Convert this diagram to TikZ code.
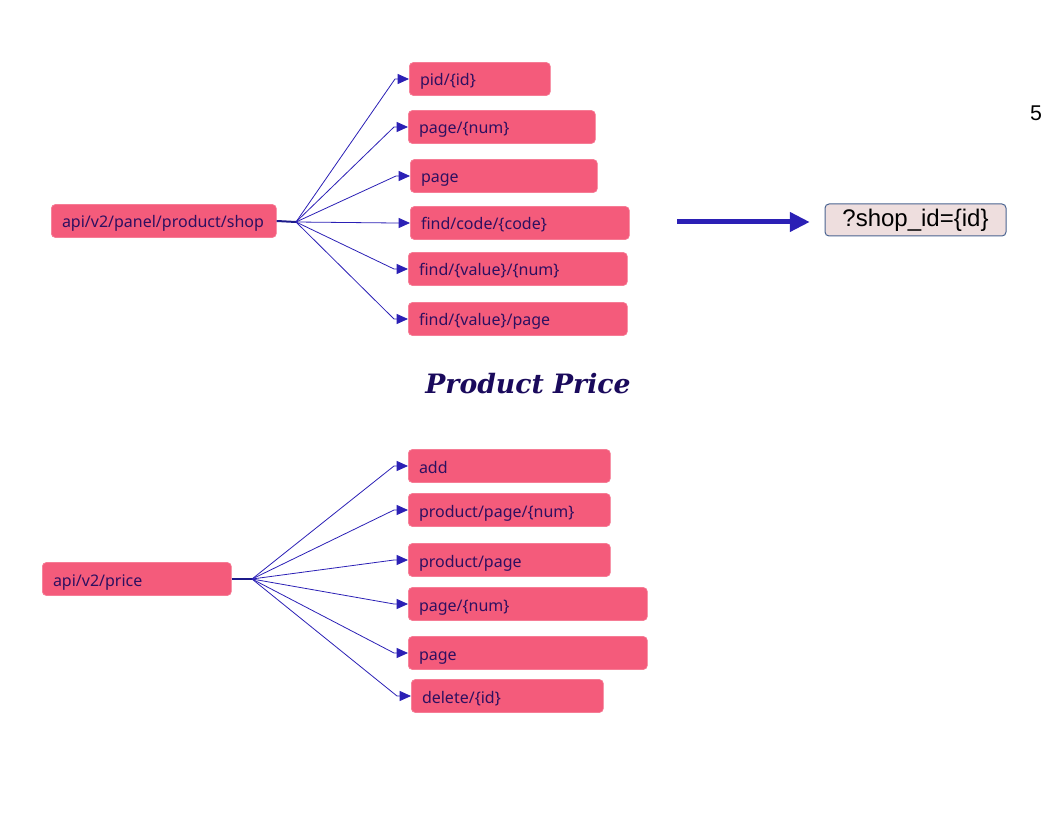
\documentclass[tikz,border=0pt]{standalone}
\usepackage{fontspec}
\setmainfont{Noto Sans}
\newfontfamily\titlefont{DejaVu Serif}
\newfontfamily\arialfont{Liberation Sans}
\usetikzlibrary{arrows.meta}
\definecolor{boxfill}{HTML}{F45B7B}
\definecolor{boxtext}{HTML}{2E1060}
\definecolor{conncol}{HTML}{2B20B5}
\definecolor{stubcol}{HTML}{1C1A8A}
\definecolor{titlecol}{HTML}{1A0A5C}
\definecolor{qfill}{HTML}{EEDEDE}
\definecolor{qdraw}{HTML}{4A6491}
\tikzset{
  pbox/.style={rectangle, rounded corners=3pt, fill=boxfill, draw=boxfill!80!white, line width=0.5pt,
    text=boxtext, font=\fontsize{12}{14}\selectfont, align=left, inner xsep=8pt, inner ysep=0pt,
    text height=12pt, text depth=1.5pt, minimum height=24.75pt, anchor=west},
  conn/.style={draw=conncol, line width=0.6pt, -{Triangle[length=8.5pt,width=7.5pt]}},
  stub/.style={draw=stubcol, line width=1.5pt},
  bigarrow/.style={draw=conncol, line width=3.75pt, -{Triangle[length=15pt,width=14pt]}},
  qbox/.style={rectangle, rounded corners=3pt, fill=qfill, draw=qdraw, line width=0.75pt,
    font=\arialfont\fontsize{18}{20}\selectfont, inner sep=0pt, minimum width=135.75pt, minimum height=24pt},
}
\begin{document}
\begin{tikzpicture}[x=0.75pt,y=-0.75pt]
\useasboundingbox (0,0) rectangle (1056,816);
% top group
\node[pbox, text width=152.75pt] (shop) at (51,221) {api/v2/panel/product/shop};
\node[pbox, text width=89.75pt] (t1) at (409,79) {pid/\{id\}};
\node[pbox, text width=124.25pt] (t2) at (408,127) {page/\{num\}};
\node[pbox, text width=124.25pt] (t3) at (410,176) {page};
\node[pbox, text width=148.25pt] (t4) at (410,223) {find/code/\{code\}};
\node[pbox, text width=148.25pt] (t5) at (408,269) {find/\{value\}/\{num\}};
\node[pbox, text width=148.25pt] (t6) at (408,319) {find/\{value\}/page};
\coordinate (hubA) at (296,222);
\draw[stub] (shop.east) -- (hubA);
\foreach \t in {t1,t2,t3,t4,t5,t6}
  \draw[conn] (hubA) -- ([xshift=-10.5pt]\t.west) -- (\t.west);
% arrow and query box
\node[qbox] (q) at (915.5,220) {?shop\_id=\{id\}};
\coordinate (arrS) at (677,222);
\draw[bigarrow, shorten >=11pt] (arrS) -- (arrS -| q.west);
\node[font=\arialfont\fontsize{16}{18}\selectfont, inner sep=0pt] (pg) at (1036,113) {5};
% title
\node[font=\titlefont\bfseries\itshape\fontsize{20}{24}\selectfont, text=titlecol, inner sep=0pt] (title) at (528,384) {Product Price};
% bottom group
\node[pbox, text width=125.75pt] (price) at (42,579) {api/v2/price};
\node[pbox, text width=135.5pt] (b1) at (408,466) {add};
\node[pbox, text width=135.5pt] (b2) at (408,510) {product/page/\{num\}};
\node[pbox, text width=135.5pt] (b3) at (408,560) {product/page};
\node[pbox, text width=163.25pt] (b4) at (408,604) {page/\{num\}};
\node[pbox, text width=163.25pt] (b5) at (408,653) {page};
\node[pbox, text width=128pt] (b6) at (411,696) {delete/\{id\}};
\coordinate (hubB) at (252,579);
\draw[stub] (price.east) -- (hubB);
\foreach \t in {b1,b2,b3,b4,b5,b6}
  \draw[conn] (hubB) -- ([xshift=-10.5pt]\t.west) -- (\t.west);
\end{tikzpicture}
\end{document}
